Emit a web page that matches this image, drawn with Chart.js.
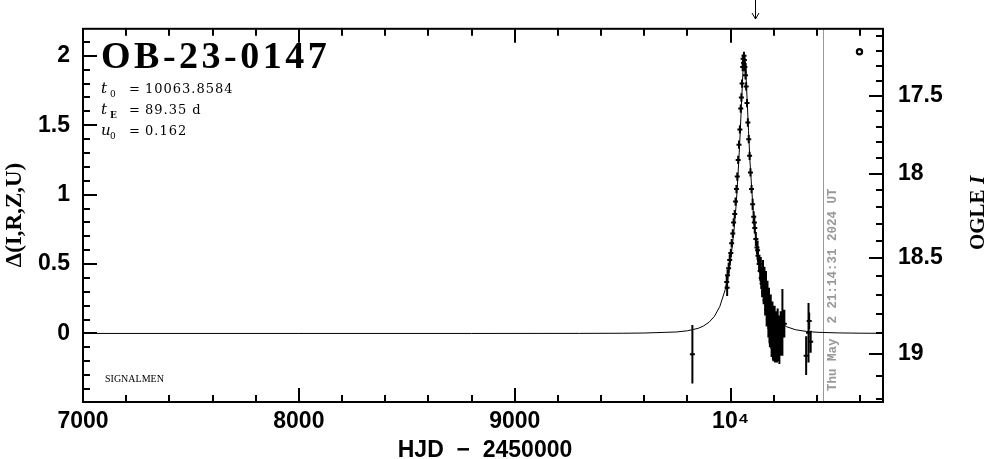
<!DOCTYPE html>
<html>
<head>
<meta charset="utf-8">
<script src="https://cdn.jsdelivr.net/npm/chart.js@4.4.1/dist/chart.umd.min.js"></script>
<style>
  html, body { margin: 0; padding: 0; background: #fff; }
  #wrap { width: 986px; height: 459px; }
</style>
</head>
<body>
<div id="wrap"><canvas id="lc"></canvas></div>
<script>
// Event info
const eventName = 'OB-23-0147';
const t0Text = '10063.8584';
const tEText = '89.35 d';
const u0Text = '0.162';
const stampText = 'Thu May  2 21:14:31 2024 UT';

// Axes
const xRange = [7000, 10706];
const yRange = [-0.494, 2.195];
const xMajor = [7000, 8000, 9000, 10000];
const xLabels = ['7000', '8000', '9000', '10\u2074'];
const yMajor = [0, 0.5, 1, 1.5, 2];
const yLabels = ['0', '0.5', '1', '1.5', '2'];
const magMajor = [17.5, 18, 18.5, 19];
const magLabels = ['17.5', '18', '18.5', '19'];
const magBase = 18.9;      // OGLE I at delta = 0
const sourceFrac = 0.687;  // blending used by the right axis

// Marks
const nowT = 10430;        // grey line of the stamp
const arrowT = 10113;      // arrow above the frame
const legendT = [10597];
const legendD = [2.03];

// Model curve
const modelT = [7000, 8000, 8800, 9300, 9500, 9600, 9700, 9750, 9800, 9850, 9875, 9900, 9925, 9950, 9975,
  9990, 10000, 10015, 10025, 10030, 10040, 10045, 10050, 10057, 10060, 10064, 10068, 10071, 10078, 10083,
  10090, 10105, 10120, 10138, 10160, 10180, 10200, 10230, 10260, 10300, 10350, 10400, 10500, 10600, 10706];
const modelD = [0, 0, 0, 0.0004, 0.0014, 0.003, 0.0079, 0.0106, 0.0192, 0.037, 0.054, 0.0804, 0.123, 0.194, 0.315,
  0.426, 0.527, 0.731, 0.913, 1.029, 1.302, 1.461, 1.644, 1.879, 1.948, 1.986, 1.948, 1.873, 1.636, 1.461,
  1.235, 0.871, 0.624, 0.426, 0.273, 0.186, 0.129, 0.078, 0.048, 0.027, 0.0146, 0.0084, 0.0038, 0.0017, 0.0008];

// OGLE photometry
const obsT = [9823, 9982, 9986, 9991, 9996, 10001, 10005, 10010, 10014, 10019, 10023, 10027, 10031, 10035, 10039,
  10043, 10047, 10050, 10053, 10056, 10058, 10060, 10062, 10064, 10066, 10069, 10072, 10076, 10080, 10084,
  10088, 10092, 10097, 10102, 10107, 10112, 10117, 10122, 10127, 10132, 10137, 10142, 10146, 10150, 10153,
  10157, 10160, 10164, 10167, 10171, 10175, 10178, 10182, 10186, 10190, 10194, 10198, 10202, 10206, 10210,
  10215, 10220, 10226, 10232, 10240, 10249, 10350, 10361, 10364, 10371,
  9984, 10110, 10125, 10140, 10155, 10162, 10169, 10180, 10188, 10196, 10204, 10212, 10218, 10224];
const obsD = [-0.15, 0.37, 0.42, 0.47, 0.53, 0.58, 0.65, 0.72, 0.80, 0.86, 0.95, 1.04, 1.13, 1.25, 1.36,
  1.47, 1.62, 1.70, 1.80, 1.92, 1.98, 1.95, 2.00, 1.97, 1.92, 1.86, 1.78, 1.66, 1.52, 1.40,
  1.28, 1.16, 1.04, 0.93, 0.84, 0.76, 0.68, 0.62, 0.56, 0.50, 0.45, 0.40, 0.36, 0.41, 0.30,
  0.35, 0.24, 0.30, 0.17, 0.22, 0.10, 0.16, 0.04, 0.12, -0.02, 0.06, -0.06, 0.02, -0.09, -0.01,
  -0.10, -0.04, -0.08, 0.00, 0.08, 0.07, -0.16, 0.005, 0.09, -0.06,
  0.33, 0.80, 0.60, 0.46, 0.33, 0.27, 0.20, 0.08, 0.03, -0.03, 0.05, -0.07, 0.01, -0.02];
const obsErr = [0.21, 0.05, 0.04, 0.04, 0.04, 0.03, 0.03, 0.03, 0.03, 0.03, 0.03, 0.03, 0.03, 0.03, 0.03,
  0.03, 0.03, 0.03, 0.03, 0.03, 0.03, 0.03, 0.03, 0.03, 0.03, 0.03, 0.03, 0.03, 0.03, 0.03,
  0.03, 0.03, 0.03, 0.04, 0.04, 0.04, 0.05, 0.05, 0.05, 0.06, 0.07, 0.08, 0.10, 0.12, 0.09,
  0.13, 0.11, 0.15, 0.12, 0.16, 0.13, 0.17, 0.14, 0.16, 0.15, 0.17, 0.14, 0.18, 0.12, 0.17,
  0.11, 0.16, 0.14, 0.16, 0.24, 0.10, 0.14, 0.215, 0.06, 0.08,
  0.06, 0.05, 0.07, 0.09, 0.12, 0.14, 0.13, 0.15, 0.14, 0.16, 0.15, 0.13, 0.17, 0.15];

// Helpers
function magToDelta(m) {
    const f = Math.pow(10, -0.4 * (m - magBase));
    return 2.5 * Math.log10((f - 1) / sourceFrac + 1);
}

function steps(a, b, d) {
    const out = [];
    for (let v = a; v <= b + 1e-9; v += d) out.push(+v.toFixed(4));
    return out;
}

const xMinor = steps(7200, 10600, 200);
const yMinor = steps(-0.4, 2.1, 0.1);
const magMinor = steps(17.1, 19.2, 0.1);

const tickFont = { family: '"Liberation Sans", Arial, sans-serif', size: 23, weight: 'bold' };

// Frame, inward ticks and error bars
const framePlugin = {
    id: 'frame',
    beforeDatasetsDraw(chart) {
        const ctx = chart.ctx;
        const { left, right, top, bottom } = chart.chartArea;
        const xs = chart.scales.x, ys = chart.scales.y;
        ctx.save();
        ctx.beginPath();
        ctx.rect(left, top, right - left, bottom - top);
        ctx.clip();
        // grey "now" line
        ctx.strokeStyle = '#999';
        ctx.lineWidth = 1;
        const nx = Math.round(xs.getPixelForValue(nowT)) + 0.5;
        ctx.beginPath();
        ctx.moveTo(nx, top);
        ctx.lineTo(nx, bottom);
        ctx.stroke();
        // error bars
        ctx.strokeStyle = '#000';
        ctx.lineWidth = 2;
        ctx.beginPath();
        obsT.forEach((t, i) => {
            const px = xs.getPixelForValue(t);
            ctx.moveTo(px, ys.getPixelForValue(obsD[i] + obsErr[i]));
            ctx.lineTo(px, ys.getPixelForValue(obsD[i] - obsErr[i]));
        });
        ctx.stroke();
        ctx.restore();
    },
    afterDraw(chart) {
        const ctx = chart.ctx;
        const { left, right, top, bottom } = chart.chartArea;
        const xs = chart.scales.x, ys = chart.scales.y;
        ctx.save();
        ctx.strokeStyle = '#000';
        ctx.lineWidth = 2;
        ctx.strokeRect(left, top, right - left, bottom - top);

        ctx.beginPath();
        xMinor.forEach(v => {
            const px = Math.round(xs.getPixelForValue(v));
            const len = xMajor.includes(v) ? 14 : 7;
            ctx.moveTo(px, bottom); ctx.lineTo(px, bottom - len);
            ctx.moveTo(px, top); ctx.lineTo(px, top + len);
        });
        yMinor.forEach(v => {
            const py = Math.round(ys.getPixelForValue(v));
            const len = yMajor.includes(v) ? 14 : 7;
            ctx.moveTo(left, py); ctx.lineTo(left + len, py);
        });
        magMinor.forEach(m => {
            const py = Math.round(ys.getPixelForValue(magToDelta(m)));
            const len = magMajor.includes(m) ? 14 : 7;
            ctx.moveTo(right, py); ctx.lineTo(right - len, py);
        });
        ctx.stroke();

        // arrow above the frame
        const ax = Math.round(xs.getPixelForValue(arrowT)) + 0.5;
        ctx.lineWidth = 1;
        ctx.beginPath();
        ctx.moveTo(ax, 0); ctx.lineTo(ax, 19);
        ctx.moveTo(ax - 3.5, 13); ctx.lineTo(ax, 19); ctx.lineTo(ax + 3.5, 13);
        ctx.stroke();

        // title and parameters
        ctx.fillStyle = '#000';
        ctx.textAlign = 'left';
        ctx.textBaseline = 'alphabetic';
        ctx.font = 'bold 38px "Liberation Serif", serif';
        ctx.letterSpacing = '3.5px';
        ctx.fillText(eventName, 101, 68);
        ctx.letterSpacing = '1px';
        const params = [['t', '0', t0Text, 92.5], ['t', 'E', tEText, 113.5], ['u', '0', u0Text, 135]];
        params.forEach(([sym, sub, val, y]) => {
            ctx.font = 'italic 15px "DejaVu Serif", serif';
            ctx.fillText(sym, 101, y);
            ctx.font = (sub === 'E' ? 'bold ' : '') + '9px "DejaVu Serif", serif';
            ctx.fillText(sub, 110, y + 4);
            ctx.font = '13px "DejaVu Serif", serif';
            ctx.fillText('=', 129, y);
            ctx.fillText(val, 145, y);
        });
        ctx.letterSpacing = '0px';
        ctx.font = '10px "Liberation Serif", serif';
        ctx.fillText('SIGNALMEN', 105, 382);

        // stamp along the grey line
        ctx.save();
        ctx.translate(Math.round(xs.getPixelForValue(nowT)) + 13, 391);
        ctx.rotate(-Math.PI / 2);
        ctx.fillStyle = '#999';
        ctx.font = 'bold 12.5px "Liberation Mono", monospace';
        ctx.fillText(stampText, 0, 0);
        ctx.restore();

        // axis titles
        ctx.fillStyle = '#000';
        ctx.textAlign = 'center';
        ctx.font = 'bold 23px "Liberation Sans", Arial, sans-serif';
        ctx.fillText('HJD  \u2212  2450000', 485, 457);

        ctx.save();
        ctx.translate(21, 215);
        ctx.rotate(-Math.PI / 2);
        ctx.font = 'bold 23px "Liberation Serif", serif';
        ctx.fillText('\u0394(I,R,Z,U)', 0, 0);
        ctx.restore();

        ctx.save();
        ctx.translate(984, 213);
        ctx.rotate(-Math.PI / 2);
        ctx.textAlign = 'left';
        ctx.font = 'bold 21px "Liberation Serif", serif';
        const w1 = ctx.measureText('OGLE ').width;
        ctx.font = 'bold italic 21px "Liberation Serif", serif';
        const w2 = ctx.measureText('I').width;
        const x0 = -(w1 + w2) / 2;
        ctx.font = 'bold 21px "Liberation Serif", serif';
        ctx.fillText('OGLE ', x0, 0);
        ctx.font = 'bold italic 21px "Liberation Serif", serif';
        ctx.fillText('I', x0 + w1, 0);
        ctx.restore();

        ctx.restore();
    }
};

document.addEventListener('DOMContentLoaded', () => {
    const ctx = document.getElementById('lc').getContext('2d');
    new Chart(ctx, {
        type: 'scatter',
        data: {
            datasets: [
                {
                    label: 'model',
                    data: modelT.map((t, i) => ({ x: t, y: modelD[i] })),
                    showLine: true,
                    borderColor: '#000',
                    borderWidth: 1,
                    pointRadius: 0,
                    tension: 0,
                    fill: false,
                    order: 2
                },
                {
                    label: 'OGLE',
                    data: obsT.map((t, i) => ({ x: t, y: obsD[i] })),
                    pointStyle: 'line',
                    pointRadius: 2.5,
                    borderWidth: 2,
                    borderColor: '#000',
                    backgroundColor: '#000',
                    order: 1
                },
                {
                    label: 'legend',
                    data: legendT.map((t, i) => ({ x: t, y: legendD[i] })),
                    pointStyle: 'circle',
                    pointRadius: 2.6,
                    borderWidth: 2.2,
                    borderColor: '#000',
                    backgroundColor: '#fff',
                    order: 0
                }
            ]
        },
        options: {
            responsive: true,
            maintainAspectRatio: false,
            animation: false,
            devicePixelRatio: 1,
            layout: { padding: { top: 26, left: 0, right: 0, bottom: 0 } },
            plugins: {
                legend: { display: false },
                tooltip: { enabled: false }
            },
            scales: {
                x: {
                    type: 'linear',
                    position: 'bottom',
                    min: xRange[0],
                    max: xRange[1],
                    grid: { display: false, drawTicks: false },
                    border: { display: false },
                    afterBuildTicks: s => { s.ticks = xMajor.map(v => ({ value: v })); },
                    afterFit: s => { s.height = 57; },
                    ticks: {
                        autoSkip: false,
                        maxRotation: 0,
                        padding: 6,
                        color: '#000',
                        font: tickFont,
                        callback: (v, i) => xLabels[i]
                    }
                },
                y: {
                    type: 'linear',
                    position: 'left',
                    min: yRange[0],
                    max: yRange[1],
                    grid: { display: false, drawTicks: false },
                    border: { display: false },
                    afterBuildTicks: s => { s.ticks = yMajor.map(v => ({ value: v })); },
                    afterFit: s => { s.width = 83; },
                    ticks: {
                        autoSkip: false,
                        padding: 13,
                        color: '#000',
                        font: tickFont,
                        callback: (v, i) => yLabels[i]
                    }
                },
                yR: {
                    type: 'linear',
                    position: 'right',
                    min: yRange[0],
                    max: yRange[1],
                    grid: { display: false, drawTicks: false },
                    border: { display: false },
                    afterBuildTicks: s => { s.ticks = magMajor.map(m => ({ value: magToDelta(m) })); },
                    afterFit: s => { s.width = 103; },
                    ticks: {
                        autoSkip: false,
                        padding: 15,
                        color: '#000',
                        font: tickFont,
                        callback: (v, i) => magLabels[i]
                    }
                }
            }
        },
        plugins: [framePlugin]
    });
});
</script>
</body>
</html>
